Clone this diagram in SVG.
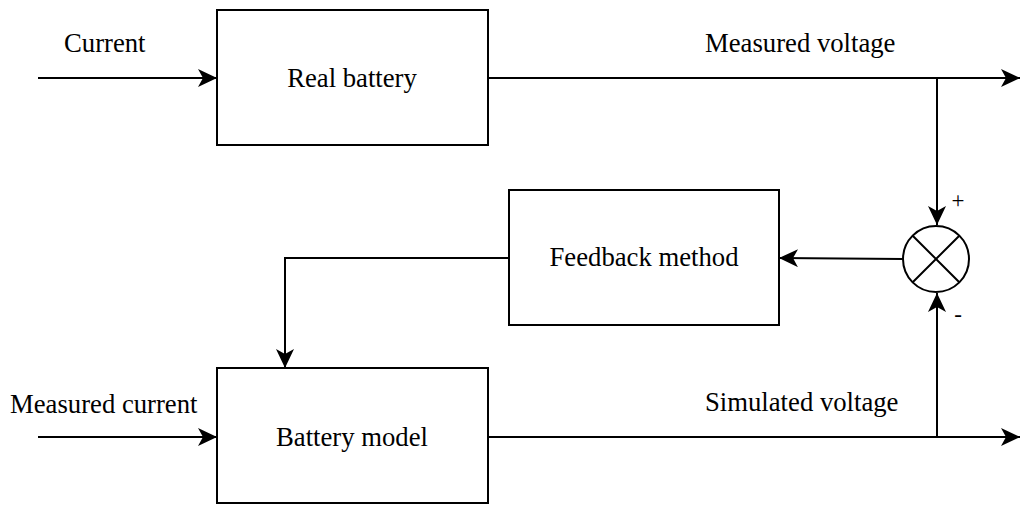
<svg xmlns="http://www.w3.org/2000/svg" width="1022" height="505" viewBox="0 0 1022 505">
  <defs>
    <marker id="arrow" markerUnits="userSpaceOnUse" markerWidth="22" markerHeight="20" refX="19" refY="9" orient="auto">
      <path d="M0,0 L19,9 L0,18 L5,9 Z" fill="#000"/>
    </marker>
    <style>
      .box { fill: #fff; stroke: #000; stroke-width: 2; }
      .wire { fill: none; stroke: #000; stroke-width: 2; }
      .arr { marker-end: url(#arrow); }
      .lbl { font-family: "Liberation Serif", "Times New Roman", serif; font-size: 26.7px; fill: #000; }
      .sign { font-family: "Liberation Serif", "Times New Roman", serif; font-size: 23px; fill: #000; text-anchor: middle; }
      .mid { text-anchor: middle; }
    </style>
  </defs>
  <rect width="1022" height="505" fill="#fff"/>

  <!-- signal lines -->
  <g id="connectors">
    <path class="wire arr" d="M38,78 L217,78"/>
    <path class="wire arr" d="M488,78 L1020,78"/>
    <path class="wire arr" d="M937,78 L937,225"/>
    <path class="wire arr" d="M903,259 L779,258"/>
    <path class="wire arr" d="M509,258 L285,258 L285,368"/>
    <path class="wire arr" d="M38,437 L217,437"/>
    <path class="wire arr" d="M488,437 L1020,437"/>
    <path class="wire arr" d="M937,437 L937,293"/>
  </g>

  <!-- free labels -->
  <g id="labels">
    <text class="lbl" x="64" y="52">Current</text>
    <text class="lbl" x="705" y="52">Measured voltage</text>
    <text class="lbl" x="10" y="413">Measured current</text>
    <text class="lbl" x="705" y="411">Simulated voltage</text>
    <text class="sign" x="958" y="208">+</text>
    <text class="sign" x="958" y="322">-</text>
  </g>

  <g id="real-battery">
    <rect class="box" x="217" y="10" width="271" height="135"/>
    <text class="lbl mid" x="352" y="87">Real battery</text>
  </g>

  <g id="feedback-method">
    <rect class="box" x="509" y="190" width="270" height="135"/>
    <text class="lbl mid" x="644" y="266">Feedback method</text>
  </g>

  <g id="battery-model">
    <rect class="box" x="217" y="368" width="271" height="135"/>
    <text class="lbl mid" x="352" y="446">Battery model</text>
  </g>

  <g id="comparator">
    <circle class="box" cx="936" cy="259" r="33"/>
    <path class="wire" d="M912.7,235.7 L959.3,282.3 M959.3,235.7 L912.7,282.3"/>
  </g>
</svg>
